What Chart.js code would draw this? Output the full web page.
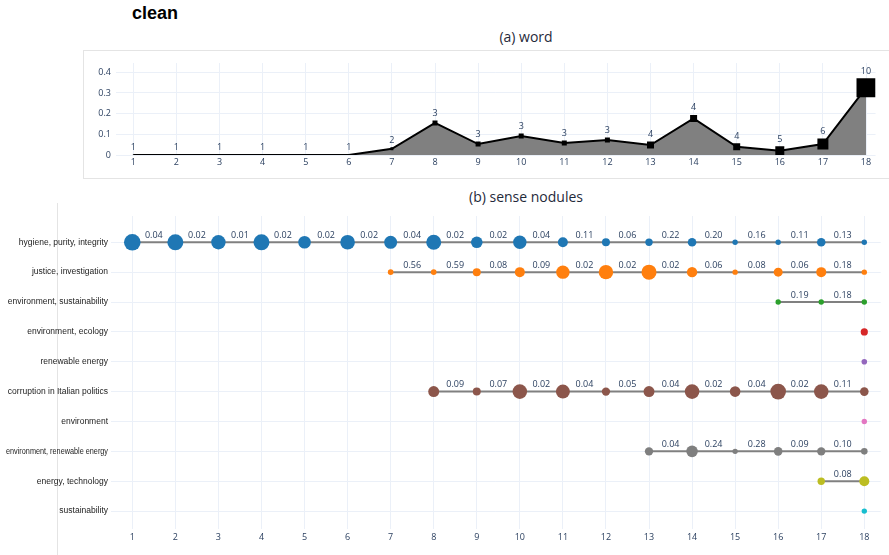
<!DOCTYPE html>
<html lang="en">
<head>
<meta charset="UTF-8">
<title>clean</title>
<script src="https://cdn.jsdelivr.net/npm/chart.js"></script>
<style>
  body { margin: 0; background: #fff; }
  #wrap { position: relative; width: 889px; height: 555px; overflow: hidden; }
  canvas { position: absolute; left: 0; top: 0; }
  #title { position: absolute; left: 132px; top: 3px; font: bold 18px "Liberation Sans", Arial, sans-serif; color: #000; }
  .sub { position: absolute; width: 300px; left: 376px; text-align: center; font: 14px "Open Sans", sans-serif; color: #1f2a3a; }
  #frameTop { position: absolute; left: 83px; top: 50px; width: 820px; height: 127px; border: 1px solid #e4e4e4; }
  #frameBottom { position: absolute; left: 57px; top: 203px; width: 1px; height: 352px; background: #e4e4e4; }
</style>
</head>
<body>
<div id="wrap">
  <div id="frameTop"></div>
  <div id="frameBottom"></div>
  <div id="title">clean</div>
  <div class="sub" style="top:27px">(a) word</div>
  <div class="sub" style="top:187px">(b) sense nodules</div>
  <canvas id="wordChart" width="889" height="555"></canvas>
  <canvas id="senseChart" width="889" height="555"></canvas>
</div>
<script>
// ---- (a) word ----
const periods = [1,2,3,4,5,6,7,8,9,10,11,12,13,14,15,16,17,18];
const wordShare = [0,0,0,0,0,0,0.03,0.155,0.053,0.092,0.058,0.072,0.048,0.177,0.04,0.021,0.053,0.325];
const wordCount = [1,1,1,1,1,1,2,3,3,3,3,3,4,4,4,5,6,10];
const yTicksWord = [0, 0.1, 0.2, 0.3, 0.4];

// ---- (b) sense nodules ----
const senseNames = ['hygiene, purity, integrity', 'justice, investigation', 'environment, sustainability',
  'environment, ecology', 'renewable energy', 'corruption in Italian politics', 'environment',
  'environment, renewable energy', 'energy, technology', 'sustainability'];
const senseStart = [1, 7, 16, 18, 18, 8, 18, 13, 17, 18];
const senseColors = ['#1f77b4','#ff7f0e','#2ca02c','#d62728','#9467bd','#8c564b','#e377c2','#7f7f7f','#bcbd22','#17becf'];

// node weights (shown as dot size)
const hygieneW = [8.3, 8, 7.2, 8, 6.3, 7.3, 6.5, 7.5, 5.8, 6.7, 5, 4, 3.7, 4.3, 2.7, 2.7, 4.3, 2.7];
const justiceW = [2.8, 2.8, 4, 5, 6.7, 7.2, 7.5, 5.2, 2.7, 4.5, 5, 2.7];
const envSustW = [2.7, 2.7, 2.7];
const envEcoW = [3.6];
const renewableW = [2.8];
const corruptionW = [5.5, 4, 7.3, 7, 4.2, 5.5, 7.3, 5.3, 7.8, 7.3, 4.3];
const environmentW = [2.7];
const envRenewW = [4.2, 5.8, 2.7, 4.3, 4.2, 3.3];
const energyTechW = [3.7, 5];
const sustainabilityW = [2.7];

// link values between consecutive nodes
const hygieneL = [0.04,0.02,0.01,0.02,0.02,0.02,0.04,0.02,0.02,0.04,0.11,0.06,0.22,0.20,0.16,0.11,0.13];
const justiceL = [0.56,0.59,0.08,0.09,0.02,0.02,0.02,0.06,0.08,0.06,0.18];
const envSustL = [0.19,0.18];
const corruptionL = [0.09,0.07,0.02,0.04,0.05,0.04,0.02,0.04,0.02,0.11];
const envRenewL = [0.04,0.24,0.28,0.09,0.10];
const energyTechL = [0.08];

const senseWeights = [hygieneW, justiceW, envSustW, envEcoW, renewableW, corruptionW, environmentW, envRenewW, energyTechW, sustainabilityW];
const senseLinks = [hygieneL, justiceL, envSustL, [], [], corruptionL, [], envRenewL, energyTechL, []];

const tickColor = '#2a3f5f';
const gridColor = '#ebf0f8';
const tickFont = { family: 'Open Sans', size: 9 };

// stretch the x range so that the first and last period sit where wanted
function fitX(chart, first, last) {
  const a = chart.chartArea;
  const step = (last - first) / (periods.length - 1);
  chart.options.scales.x.min = periods[0] - (first - a.left) / step;
  chart.options.scales.x.max = periods[periods.length - 1] + (a.right - last) / step;
  chart.update();
}

// label above each square with the count
const countLabels = {
  id: 'countLabels',
  afterDatasetsDraw(chart) {
    const ctx = chart.ctx;
    const pts = chart.getDatasetMeta(0).data;
    ctx.save();
    ctx.fillStyle = tickColor;
    ctx.font = '9px "Open Sans"';
    ctx.textAlign = 'center';
    ctx.textBaseline = 'middle';
    pts.forEach((p, i) => {
      const half = p.options.radius * Math.SQRT1_2;
      ctx.fillText(String(wordCount[i]), p.x, p.y - half - 7);
    });
    ctx.restore();
  }
};

const wordChart = new Chart(document.getElementById('wordChart'), {
  type: 'line',
  data: {
    datasets: [{
      data: periods.map((x, i) => ({ x: x, y: wordShare[i] })),
      borderColor: '#000',
      borderWidth: 2,
      backgroundColor: '#808080',
      fill: 'origin',
      tension: 0,
      pointStyle: 'rect',
      pointRadius: wordCount.map(c => (2 * c - 1) / Math.SQRT2),
      pointBackgroundColor: '#000',
      pointBorderWidth: 0
    }]
  },
  plugins: [countLabels],
  options: {
    responsive: false,
    animation: false,
    events: [],
    layout: { padding: { left: 76, right: 7, top: 63, bottom: 380 } },
    plugins: { legend: { display: false }, tooltip: { enabled: false } },
    scales: {
      x: {
        type: 'linear', min: 0.6, max: 18.28,
        afterBuildTicks: s => { s.ticks = periods.map(v => ({ value: v })); },
        afterFit: s => { s.height = 20; },
        grid: { color: gridColor, drawTicks: false },
        border: { display: false },
        ticks: { color: tickColor, font: tickFont, padding: 2, maxRotation: 0 }
      },
      y: {
        min: 0, max: 0.445,
        afterBuildTicks: s => { s.ticks = yTicksWord.map(v => ({ value: v })); },
        afterFit: s => { s.width = 40; },
        grid: { color: gridColor, drawTicks: false },
        border: { display: false },
        ticks: { color: tickColor, font: tickFont, padding: 5, callback: v => String(+v.toFixed(1)) }
      }
    }
  }
});
fitX(wordChart, 133.3, 866);

// link values and row names for the sense chart
const senseText = {
  id: 'senseText',
  afterDatasetsDraw(chart) {
    const ctx = chart.ctx;
    ctx.save();
    ctx.fillStyle = tickColor;
    ctx.font = '9px "Open Sans"';
    ctx.textAlign = 'center';
    ctx.textBaseline = 'middle';
    senseLinks.forEach((links, r) => {
      const pts = chart.getDatasetMeta(r).data;
      links.forEach((v, i) => {
        const a = pts[i], b = pts[i + 1];
        ctx.fillText(v.toFixed(2), (a.x + b.x) / 2, a.y - 7);
      });
    });
    const ys = chart.scales.y;
    ctx.fillStyle = '#222';
    ctx.font = '8.5px "Liberation Sans", Arial, sans-serif';
    ctx.textAlign = 'right';
    senseNames.forEach((name, r) => {
      ctx.fillText(name, 108, ys.getPixelForValue(r), 102);
    });
    ctx.restore();
  }
};

const senseChart = new Chart(document.getElementById('senseChart'), {
  type: 'line',
  data: {
    datasets: senseNames.map((name, r) => ({
      label: name,
      data: senseWeights[r].map((w, i) => ({ x: senseStart[r] + i, y: r })),
      borderColor: '#808080',
      borderWidth: 2,
      tension: 0,
      fill: false,
      pointRadius: senseWeights[r],
      pointBackgroundColor: senseColors[r],
      pointBorderWidth: 0
    }))
  },
  plugins: [senseText],
  options: {
    responsive: false,
    animation: false,
    events: [],
    layout: { padding: { left: 10.8, right: 0, top: 216, bottom: 6 } },
    plugins: { legend: { display: false }, tooltip: { enabled: false } },
    scales: {
      x: {
        type: 'linear', min: 0.5, max: 18.5,
        afterBuildTicks: s => { s.ticks = periods.map(v => ({ value: v })); },
        afterFit: s => { s.height = 20; },
        grid: { color: gridColor, drawTicks: false },
        border: { display: false },
        ticks: { color: tickColor, font: tickFont, padding: 3, maxRotation: 0 }
      },
      y: {
        type: 'linear', min: -0.88, max: 9.6, reverse: true,
        afterBuildTicks: s => { s.ticks = senseNames.map((n, i) => ({ value: i })); },
        afterFit: s => { s.width = 100; },
        grid: { color: gridColor, drawTicks: false },
        border: { display: false },
        ticks: { display: false }
      }
    }
  }
});
fitX(senseChart, 132.3, 864.3);
</script>
</body>
</html>
